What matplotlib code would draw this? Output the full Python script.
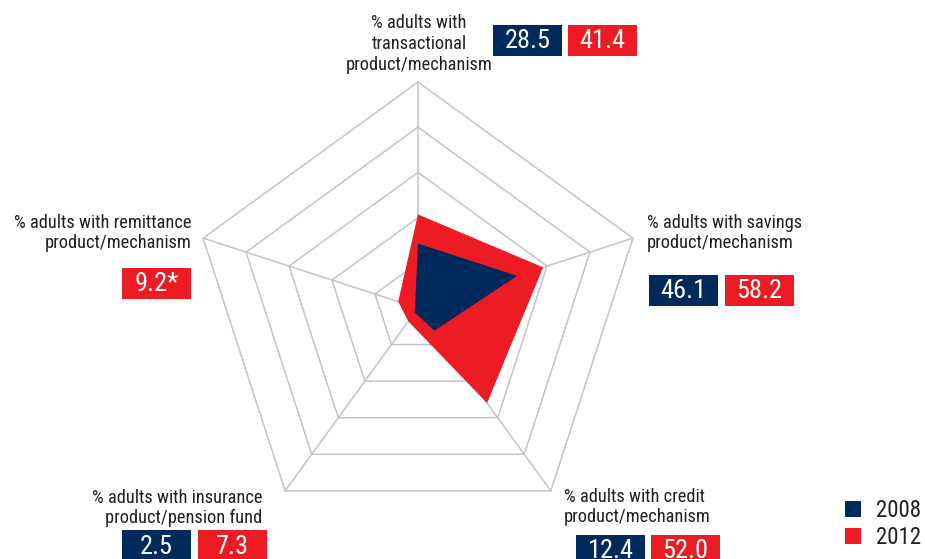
import numpy as np
import matplotlib.pyplot as plt
from matplotlib import font_manager
from matplotlib.patches import Rectangle
from matplotlib.lines import Line2D

# narrow sans for the labels, first one that is installed
installed = {f.name for f in font_manager.fontManager.ttflist}
narrow = [f for f in ('Liberation Sans Narrow', 'Roboto Condensed', 'Open Sans Condensed',
                      'Liberation Sans') if f in installed]
plt.rcParams['font.family'] = narrow[:1] + ['DejaVu Sans']

# Financial inclusion indicators, % of adults
categories = [
    "% adults with\ntransactional\nproduct/mechanism",
    "% adults with savings\nproduct/mechanism",
    "% adults with credit\nproduct/mechanism",
    "% adults with insurance\nproduct/pension fund",
    "% adults with remittance\nproduct/mechanism",
]
values_2008 = [28.5, 46.1, 12.4, 2.5, None]   # no remittance figure for 2008
values_2012 = [41.4, 58.2, 52.0, 7.3, 9.2]
value_text_2012 = ["41.4", "58.2", "52.0", "7.3", "9.2*"]
years = ["2008", "2012"]
grid_levels = [20, 40, 60, 80, 100]

NAVY = "#002a5c"
RED = "#ed1c24"
GRID = "#c4c4c6"
TEXT = "#231f20"

W, H = 925, 559
fig = plt.figure(figsize=(W / 100, H / 100), dpi=100)

# radar lives in data units (0-100 %), centre at pixel (418, 308), 100 % = 226 px
cx, cy, scale = 418, 308, 2.26
ax = fig.add_axes([0, 0, 1, 1])
ax.set_xlim(-cx / scale, (W - cx) / scale)
ax.set_ylim(-(H - cy) / scale, cy / scale)
ax.axis('off')

angles = np.deg2rad(90 - 72 * np.arange(len(categories)))


def to_xy(vals):
    pts = [(v * np.cos(a), v * np.sin(a)) for v, a in zip(vals, angles) if v is not None]
    return np.array(pts)


# pentagon grid and spokes
for lev in grid_levels:
    ring = to_xy([lev] * len(categories))
    ring = np.vstack([ring, ring[:1]])
    ax.plot(ring[:, 0], ring[:, 1], color=GRID, lw=1.1, zorder=1)
for a in angles:
    ax.plot([0, 100 * np.cos(a)], [0, 100 * np.sin(a)], color=GRID, lw=1.1, zorder=1)

# data polygons
p12 = to_xy(values_2012)
p08 = to_xy(values_2008)
ax.fill(p12[:, 0], p12[:, 1], color=RED, lw=0, zorder=2)
ax.fill(p08[:, 0], p08[:, 1], color=NAVY, lw=0, zorder=3)


def px(x, y):
    return x / W, 1 - y / H


def value_box(x, y, txt, color, w=69, h=31):
    fx, fy = px(x, y + h)
    fig.patches.append(Rectangle((fx, fy), w / W, h / H, transform=fig.transFigure,
                                 facecolor=color, edgecolor='none'))
    tx, ty = px(x + w / 2, y + h / 2 + 1)
    fig.text(tx, ty, txt, color='white', fontsize=19, ha='center', va='center')


label_kw = dict(fontsize=13.2, color=TEXT, linespacing=1.2, va='center')

# transactional (top)
fig.text(*px(419, 44), categories[0], ha='center', **label_kw)
value_box(493, 25, f"{values_2008[0]:.1f}", NAVY)
value_box(568, 25, value_text_2012[0], RED)

# savings (right)
fig.text(*px(647, 233), categories[1], ha='left', **label_kw)
value_box(649, 275, f"{values_2008[1]:.1f}", NAVY)
value_box(725, 275, value_text_2012[1], RED)

# credit (bottom right)
fig.text(*px(564, 507), categories[2], ha='left', **label_kw)
value_box(576, 535, f"{values_2008[2]:.1f}", NAVY)
value_box(651, 535, value_text_2012[2], RED)

# insurance (bottom left)
fig.text(*px(262, 508), categories[3], ha='right', **label_kw)
value_box(122, 530, f"{values_2008[3]:.1f}", NAVY)
value_box(198, 530, value_text_2012[3], RED)

# remittance (left)
fig.text(*px(192, 233), categories[4], ha='right', **label_kw)
value_box(122, 268, value_text_2012[4], RED)

handles = [Line2D([], [], marker='s', ls='none', markersize=11, color=c,
                  markeredgewidth=0) for c in (NAVY, RED)]
ax.legend(handles, years, loc='center left', bbox_to_anchor=px(842, 524),
          bbox_transform=fig.transFigure, frameon=False, fontsize=16.5,
          handlelength=1, handletextpad=0.5, labelspacing=0.2, borderpad=0,
          borderaxespad=0, labelcolor=TEXT)

fig.savefig('out.png', dpi=100)
